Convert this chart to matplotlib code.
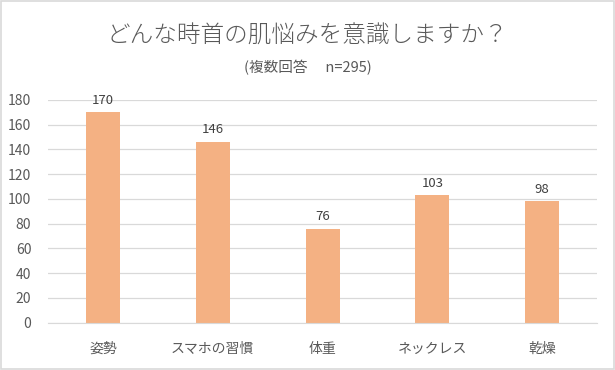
import matplotlib.pyplot as plt
from matplotlib.patches import Rectangle

plt.rcParams['font.family'] = ['Noto Sans CJK JP', 'DejaVu Sans']

categories = ["姿勢", "スマホの習慣", "体重", "ネックレス", "乾燥"]
counts = [170, 146, 76, 103, 98]
yticks = [0, 20, 40, 60, 80, 100, 120, 140, 160, 180]

textColor = "#595959"
barColor = "#F4B183"

fig = plt.figure(figsize=(6.15, 3.7), dpi=100)
fig.patches.append(Rectangle((0.002, 0.003), 0.996, 0.994, transform=fig.transFigure,
                             fill=False, edgecolor="#D9D9D9", linewidth=1.2))

ax = fig.add_axes([0.078, 0.128, 0.893, 0.602])
x = range(len(categories))
bars = ax.bar(x, counts, width=0.31, color=barColor, zorder=2)

for xi, v in zip(x, counts):
    ax.annotate(str(v), (xi, v), xytext=(0, 4), textcoords="offset points",
                ha="center", va="bottom", fontsize=9.5, color="#404040")

ax.set_ylim(0, 180)
ax.set_xlim(-0.5, len(categories) - 0.5)
ax.set_yticks(yticks)
ax.set_xticks(list(x))
ax.set_xticklabels(categories)
ax.yaxis.grid(True, color="#D9D9D9", linewidth=0.9, zorder=0)
ax.tick_params(axis="both", length=0, labelsize=10, colors=textColor)
ax.tick_params(axis="x", pad=14)
ax.tick_params(axis="y", pad=12)
for side in ["top", "right", "left"]:
    ax.spines[side].set_visible(False)
ax.spines["bottom"].set_color("#D9D9D9")

fig.text(0.5, 0.903, "どんな時首の肌悩みを意識しますか？", ha="center", va="center",
         fontsize=17, color=textColor, fontweight="light")
fig.text(0.5, 0.818, "(複数回答\u3000 n=295)", ha="center", va="center",
         fontsize=10.5, color=textColor)

fig.savefig("out.png", dpi=100)
